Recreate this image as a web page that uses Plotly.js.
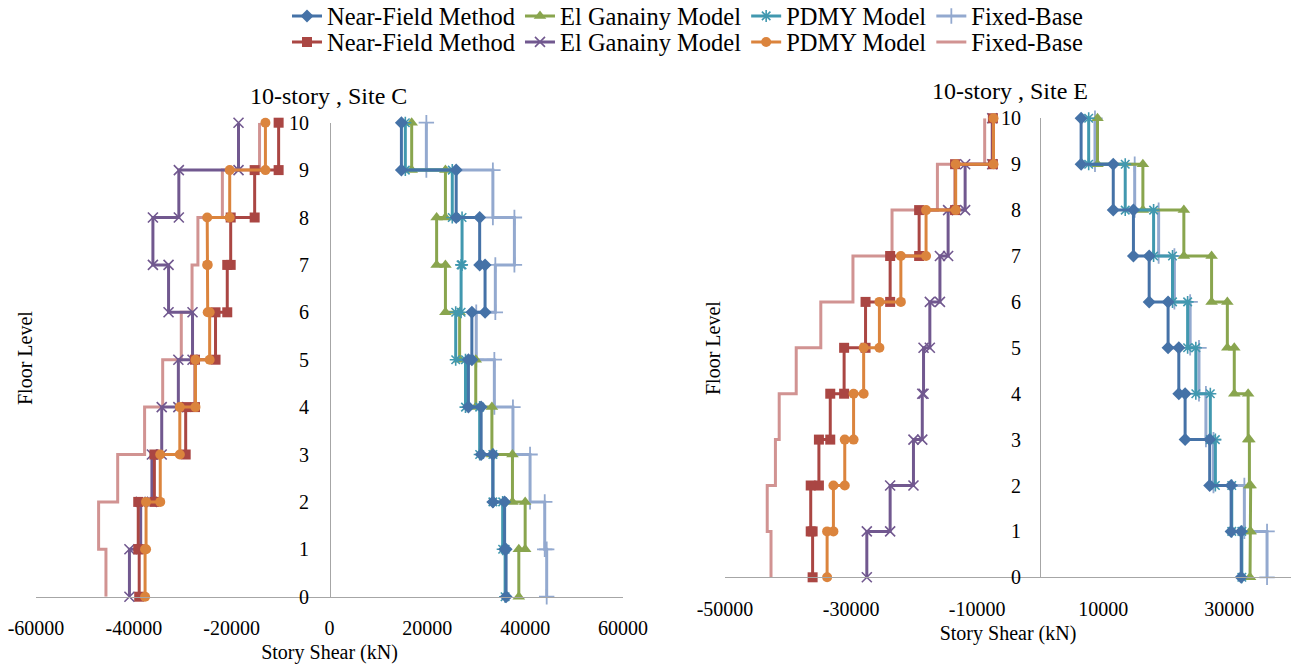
<!DOCTYPE html>
<html><head><meta charset="utf-8">
<script src="https://cdn.plot.ly/plotly-3.0.1.min.js"></script>
<style>html,body{margin:0;padding:0;background:#fff;} #chart{width:1291px;height:664px;}</style>
</head><body><div id="chart"></div>
<script>
// Floor levels
const floors = [0,1,2,3,4,5,6,7,8,9,10];
const seriesNames = ["Near-Field Method","El Ganainy Model","PDMY Model","Fixed-Base"];
const xTickVals = [-60000,-40000,-20000,0,20000,40000,60000];
const xTickValsE = [-50000,-30000,-10000,10000,30000];

// Story shear (kN) for stories 1..10 — 10-story, Site C
const siteC_nearField_pos = [36100,35800,33400,31000,28400,29100,31800,30700,25900,14700];
const siteC_elGanainy_pos = [38700,40000,37400,33200,29900,26600,23700,21900,23700,16800];
const siteC_pdmy_pos      = [35900,35400,33400,30700,27800,25800,26900,27100,25100,15500];
const siteC_fixedBase_pos = [44400,44000,41000,37500,33700,30000,33900,37800,33400,19800];
const siteC_nearField_neg = [-38900,-39100,-35800,-29400,-27500,-23300,-20900,-20200,-15300,-10400];
const siteC_elGanainy_neg = [-40900,-38600,-36300,-34300,-30900,-28000,-32900,-36100,-30800,-18600];
const siteC_pdmy_neg      = [-37700,-37500,-34600,-30600,-27400,-24500,-24900,-25000,-20400,-13100];
const siteC_fixedBase_neg = [-45700,-47200,-43300,-37800,-34100,-30300,-28100,-26900,-21900,-14300];

// Story shear (kN) for stories 1..10 — 10-story, Site E
const siteE_nearField_pos = [31900,30300,26900,23000,22000,20300,17300,14800,11600,6500];
const siteE_elGanainy_pos = [33300,33400,33200,33000,30800,29700,27200,22800,16300,9100];
const siteE_pdmy_pos      = [32000,30400,27800,27000,24700,23400,21000,18000,13500,7700];
const siteE_fixedBase_pos = [36000,32400,27500,26300,25200,23800,21300,18800,15000,8700];
const siteE_nearField_neg = [-36100,-36400,-35100,-33300,-31100,-27700,-23800,-19200,-13500,-7500];
const siteE_elGanainy_neg = [-27500,-23800,-20100,-18700,-18500,-17500,-15900,-14600,-11900,-7600];
const siteE_pdmy_neg      = [-33800,-32800,-31000,-29600,-28000,-25500,-22100,-18100,-13400,-7400];
const siteE_fixedBase_neg = [-42700,-43300,-42000,-41400,-38700,-34800,-29700,-23500,-16300,-8800];

function stepXY(shears){
  const x=[], y=[];
  for(let s=shears.length; s>=1; s--){
    x.push(shears[s-1], shears[s-1]);
    y.push(floors[s], floors[s-1]);
  }
  return {x, y};
}

const styles = {
  nfPos:{color:'#4572A7', symbol:'diamond', size:10},
  egPos:{color:'#89A54E', symbol:'triangle-up', size:11},
  pdPos:{color:'#4198AF', symbol:'asterisk-open', size:10, lw:1.6},
  fbPos:{color:'#93A9CF', symbol:'cross-thin-open', size:11, lw:1.8},
  nfNeg:{color:'#AA4643', symbol:'square', size:10},
  egNeg:{color:'#71588F', symbol:'x-thin-open', size:10, lw:1.6},
  pdNeg:{color:'#DB843D', symbol:'circle', size:10},
  fbNeg:{color:'#D19392', symbol:null}
};

function mk(data, name, st, xa, ya, legend, show){
  const xy = stepXY(data);
  const t = {
    type:'scatter', x:xy.x, y:xy.y, name:name, xaxis:xa, yaxis:ya,
    mode: st.symbol ? 'lines+markers' : 'lines',
    line:{color:st.color, width:3},
    cliponaxis:false, showlegend:show, legend:legend, hoverinfo:'skip'
  };
  if(st.symbol){
    t.marker = {symbol:st.symbol, size:st.size, color:st.color,
      line:{color:st.color, width: st.lw || 0}};
  }
  return t;
}

const traces = [
  mk(siteC_fixedBase_pos, seriesNames[3], styles.fbPos,'x','y','legend',false),
  mk(siteC_elGanainy_pos, seriesNames[1], styles.egPos,'x','y','legend',false),
  mk(siteC_pdmy_pos, seriesNames[2], styles.pdPos,'x','y','legend',false),
  mk(siteC_nearField_pos, seriesNames[0], styles.nfPos,'x','y','legend',false),
  mk(siteC_fixedBase_neg, seriesNames[3], styles.fbNeg,'x','y','legend2',false),
  mk(siteC_elGanainy_neg, seriesNames[1], styles.egNeg,'x','y','legend2',false),
  mk(siteC_nearField_neg, seriesNames[0], styles.nfNeg,'x','y','legend2',false),
  mk(siteC_pdmy_neg, seriesNames[2], styles.pdNeg,'x','y','legend2',false),

  mk(siteE_fixedBase_pos, seriesNames[3], styles.fbPos,'x2','y2','legend',false),
  mk(siteE_elGanainy_pos, seriesNames[1], styles.egPos,'x2','y2','legend',false),
  mk(siteE_pdmy_pos, seriesNames[2], styles.pdPos,'x2','y2','legend',false),
  mk(siteE_nearField_pos, seriesNames[0], styles.nfPos,'x2','y2','legend',false),
  mk(siteE_fixedBase_neg, seriesNames[3], styles.fbNeg,'x2','y2','legend2',false),
  mk(siteE_elGanainy_neg, seriesNames[1], styles.egNeg,'x2','y2','legend2',false),
  mk(siteE_nearField_neg, seriesNames[0], styles.nfNeg,'x2','y2','legend2',false),
  mk(siteE_pdmy_neg, seriesNames[2], styles.pdNeg,'x2','y2','legend2',false)
];

// Legend-only entries in the reference order
const legendPos = [
  mk([null], seriesNames[0], styles.nfPos,'x','y','legend',true),
  mk([null], seriesNames[1], styles.egPos,'x','y','legend',true),
  mk([null], seriesNames[2], styles.pdPos,'x','y','legend',true),
  mk([null], seriesNames[3], styles.fbPos,'x','y','legend',true)
];
const legendNeg = [
  mk([null], seriesNames[0], styles.nfNeg,'x','y','legend2',true),
  mk([null], seriesNames[1], styles.egNeg,'x','y','legend2',true),
  mk([null], seriesNames[2], styles.pdNeg,'x','y','legend2',true),
  mk([null], seriesNames[3], styles.fbNeg,'x','y','legend2',true)
];

const W=1291, H=664;
const FONT = 'Liberation Serif';
const axisGray = '#A6A6A6';

function legendDef(yPx){
  return {orientation:'h', xanchor:'center', yanchor:'middle', x:688/W, y:1-yPx/H,
    font:{family:'Liberation Serif', size:24.5, color:'#000'}, bgcolor:'rgba(0,0,0,0)', itemwidth:30,
    traceorder:'normal', itemclick:false, itemdoubleclick:false};
}

const layout = {
  width:W, height:H, margin:{l:0,r:0,t:0,b:0,autoexpand:false},
  paper_bgcolor:'#fff', plot_bgcolor:'rgba(0,0,0,0)',
  font:{family:FONT, size:20, color:'#000'},
  showlegend:true,
  legend: legendDef(16),
  legend2: legendDef(42),
  xaxis:{domain:[36/W, 623/W], range:[-60000,60000], anchor:'y', automargin:false,
    tickvals:xTickVals, ticktext:xTickVals.map(String), showgrid:false, zeroline:false,
    showline:true, linecolor:axisGray, linewidth:1, ticks:'', ticklabelstandoff:13,
    tickfont:{family:FONT, size:20},
    title:{text:'Story Shear (kN)', font:{family:FONT, size:20}, standoff:7}},
  yaxis:{domain:[1-596.7/H, 1-122.7/H], range:[0,10], anchor:'free', position:330/W, automargin:false,
    tickvals:floors, showgrid:false, zeroline:false, showline:true, linecolor:axisGray, linewidth:1,
    ticks:'', ticklabelstandoff:17, tickfont:{family:FONT, size:20}},
  xaxis2:{domain:[725/W, 1], range:[-50000,39800], anchor:'y2', automargin:false,
    tickvals:xTickValsE, ticktext:xTickValsE.map(String), showgrid:false, zeroline:false,
    showline:true, linecolor:axisGray, linewidth:1, ticks:'', ticklabelstandoff:14,
    tickfont:{family:FONT, size:20},
    title:{text:'Story Shear (kN)', font:{family:FONT, size:20}, standoff:6}},
  yaxis2:{domain:[1-577.3/H, 1-118.3/H], range:[0,10], anchor:'free', position:1040/W, automargin:false,
    tickvals:floors, showgrid:false, zeroline:false, showline:true, linecolor:axisGray, linewidth:1,
    ticks:'', ticklabelstandoff:15, tickfont:{family:FONT, size:20}},
  annotations:[
    {text:'10-story , Site C', xref:'paper', yref:'paper', x:329/W, y:1-96/H, showarrow:false,
      xanchor:'center', yanchor:'middle', font:{family:FONT, size:24}},
    {text:'10-story , Site E', xref:'paper', yref:'paper', x:1010/W, y:1-91/H, showarrow:false,
      xanchor:'center', yanchor:'middle', font:{family:FONT, size:24}},
    {text:'Floor Level', xref:'paper', yref:'paper', x:25/W, y:1-358/H, showarrow:false,
      textangle:-90, xanchor:'center', yanchor:'middle', font:{family:FONT, size:20}},
    {text:'Floor Level', xref:'paper', yref:'paper', x:713/W, y:1-348/H, showarrow:false,
      textangle:-90, xanchor:'center', yanchor:'middle', font:{family:FONT, size:20}}
  ]
};

Plotly.newPlot('chart', traces.concat(legendPos, legendNeg), layout, {displayModeBar:false, staticPlot:true});
</script>
</body></html>
